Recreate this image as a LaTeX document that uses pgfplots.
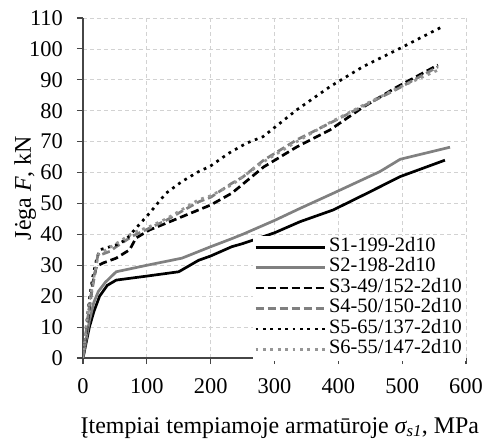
\documentclass[border=0pt]{standalone}
\usepackage{fontspec}
\setmainfont{Liberation Serif}
\usepackage{pgfplots}
\pgfplotsset{compat=1.18}
\definecolor{gridc}{RGB}{210,210,210}
\definecolor{axc}{RGB}{70,70,70}
\definecolor{g1}{RGB}{128,128,128}
\definecolor{g2}{RGB}{150,150,150}
\begin{document}
\begin{tikzpicture}
\useasboundingbox (-83bp,-82bp) rectangle (402bp,358bp);
\begin{axis}[
  at={(0,0)}, anchor=south west,
  scale only axis, width=383bp, height=340bp,
  xmin=0, xmax=600, ymin=0, ymax=110,
  xtick={0,100,...,600}, ytick={0,10,...,110},
  axis lines=left,
  axis line style={-, color=axc, line width=1.3bp},
  tick style={color=axc, line width=1.1bp},
  tick align=outside, major tick length=6bp,
  grid=major,
  major grid style={color=gridc, line width=0.8bp, dash pattern=on 4bp off 3bp},
  /pgf/number format/assume math mode=true,
  ticklabel style={font=\fontsize{22.5}{26}\selectfont, inner sep=0pt},
  xticklabel style={yshift=-14bp},
  yticklabel style={xshift=-14bp},
  label style={font=\fontsize{24}{28}\selectfont},
  xlabel={Įtempiai tempiamoje armatūroje {\itshape σ}\textsubscript{\itshape s1}, MPa},
  ylabel={Jėga \textit{F}, kN},
  xlabel style={at={(axis description cs:0.514,-0.2206)}, anchor=base},
  ylabel style={at={(axis description cs:-0.136,0.5)}, anchor=base},
  legend style={at={(axis cs:600,39.5)}, anchor=north east, draw=none, fill=white,
    inner xsep=1bp, inner ysep=1bp, row sep=0pt,
    font=\fontsize{20.5}{20.4}\selectfont,
    nodes={inner ysep=0pt, inner xsep=3bp, text height=14.4bp, text depth=6bp}},
  legend cell align=left,
  legend image code/.code={\draw[#1] (0bp,0bp) -- (69bp,0bp);},
]
\addplot[black, line width=2.7bp] coordinates {
(0,0) (5,5) (10,10) (17,15) (26,20) (38,23.5) (52,25.2) (100,26.5) (150,27.9) (181,31.6) (200,33) (233,36) (250,37) (300,40.5) (340,44.1) (392,47.9) (445,53.3) (497,58.7) (567,64)
};
\addlegendentry{S1-199-2d10}
\addplot[g1, line width=2.7bp] coordinates {
(0,0) (5,6) (10,12) (17,18) (24,21.5) (35,24.5) (52,27.9) (100,30) (155,32.3) (200,36) (233,38.6) (250,40) (300,44.5) (340,48.4) (392,53.3) (465,60.3) (497,64.3) (575,68.2)
};
\addlegendentry{S2-198-2d10}
\addplot[black, line width=2.7bp, dash pattern=on 8bp off 4bp] coordinates {
(0,0) (5,8) (10,16) (15,24) (21,29.6) (31,30.7) (52,32.3) (73,35) (83,38.8) (104,41.4) (155,45.7) (200,49.5) (233,53.3) (283,61.8) (335,68.3) (387,73.8) (439,81.2) (492,87.7) (556,94.8)
};
\addlegendentry{S3-49/152-2d10}
\addplot[g1, line width=2.7bp, dash pattern=on 8bp off 4bp] coordinates {
(0,0) (5,9) (10,17) (16,24) (23,33) (42,34.5) (52,36) (78,39.5) (104,42) (130,44.5) (155,47.5) (181,50.5) (200,52) (233,56.5) (250,58.5) (283,64) (335,70.6) (387,76) (439,81.5) (492,87) (556,94.2)
};
\addlegendentry{S4-50/150-2d10}
\addplot[black, line width=2.7bp, dash pattern=on 2.8bp off 4.6bp] coordinates {
(0,0) (5,10) (10,19) (15,26) (21,31.7) (26,35) (52,36.6) (67,38.2) (83,42) (104,46.8) (130,53.3) (155,57.1) (181,60.3) (199,62) (228,66.2) (256,69.5) (282,71.6) (335,80.3) (387,87.8) (439,94.3) (492,99.7) (563,107.2)
};
\addlegendentry{S5-65/137-2d10}
\addplot[g2, line width=2.7bp, dash pattern=on 2.8bp off 4.6bp] coordinates {
(0,0) (5,10) (10,18) (17,26) (24,33.5) (52,37) (78,40.5) (104,42.5) (130,45) (155,48) (181,51.2) (200,52.5) (233,56) (283,63.5) (335,70) (387,76.2) (439,81.8) (492,87.2) (560,93.5)
};
\addlegendentry{S6-55/147-2d10}
\end{axis}
\end{tikzpicture}
\end{document}
